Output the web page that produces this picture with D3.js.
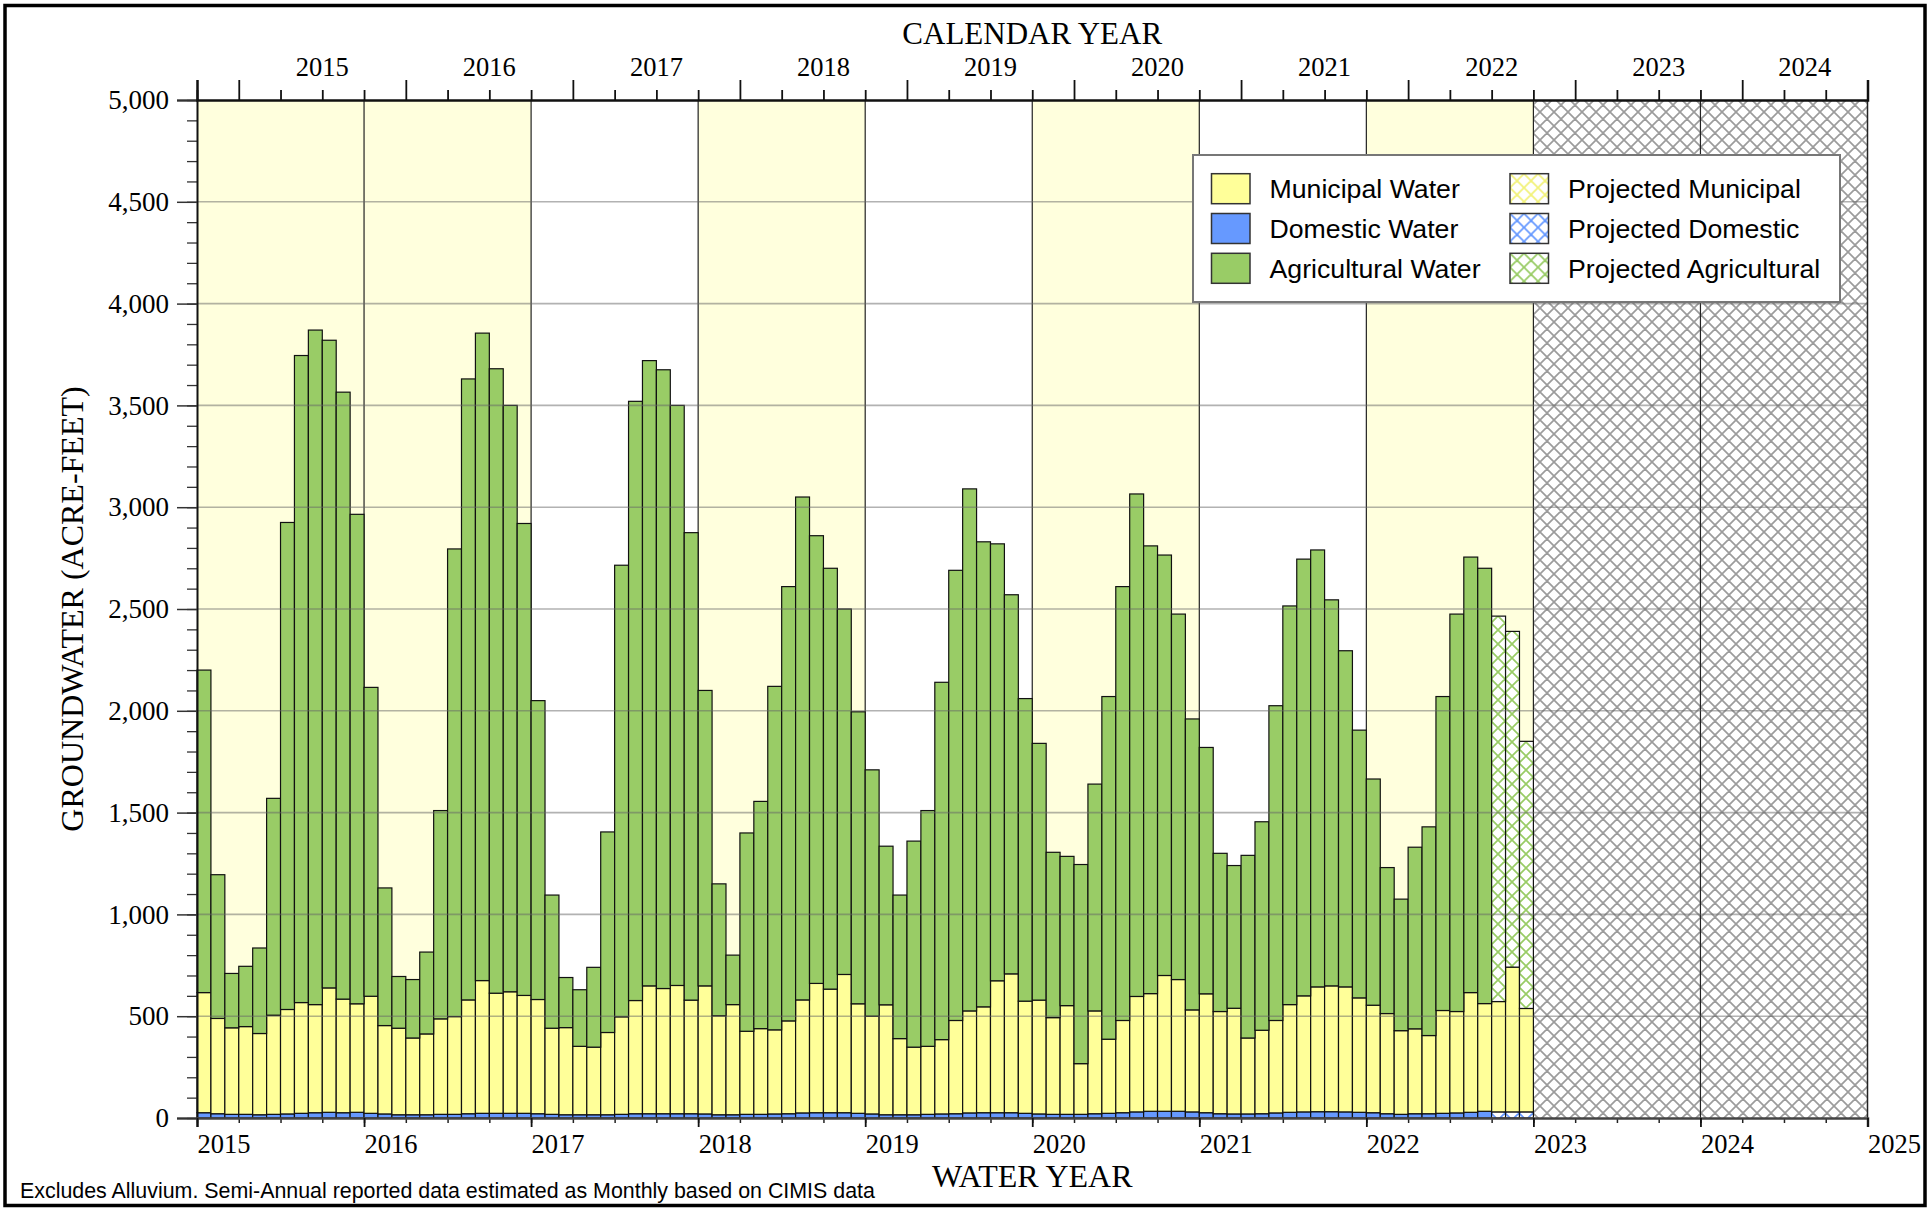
<!DOCTYPE html>
<html>
<head>
<meta charset="utf-8">
<script src="https://cdn.jsdelivr.net/npm/d3@7"></script>
<style>
  body { margin: 0; background: #fff; }
  svg { display: block; }
</style>
</head>
<body>
<div id="graph"></div>
<script>
var width = 1929,
    height = 1208

// water years on the bottom axis, calendar years on the top one
var waterYears = d3.range(2015, 2026)
var calendarYears = d3.range(2015, 2025)
var shadedYears = [2015, 2016, 2018, 2020, 2022]
var projectedYears = [2023, 2024]

// monthly groundwater use, Oct 2014 - Jun 2022 (acre-feet)
var domestic = [
  26, 21, 18, 18, 16, 18, 20, 23, 26, 28, 26, 28,
  23, 20, 16, 16, 16, 18, 18, 21, 23, 23, 23, 23,
  21, 18, 16, 16, 16, 16, 18, 21, 21, 21, 21, 21,
  20, 16, 16, 18, 18, 20, 21, 25, 26, 26, 26, 23,
  20, 16, 16, 16, 18, 20, 21, 25, 26, 26, 26, 23,
  20, 18, 18, 18, 21, 23, 26, 30, 33, 33, 33, 30,
  26, 21, 20, 20, 21, 25, 28, 30, 31, 31, 30, 28,
  26, 21, 18, 21, 21, 23, 25, 28, 33]
var municipal = [
  590, 468, 425, 431, 399, 487, 513, 544, 531, 611, 558, 533,
  575, 434, 425, 377, 397, 469, 480, 559, 652, 590, 597, 579,
  561, 423, 428, 336, 332, 404, 479, 556, 628, 615, 630, 558,
  629, 486, 541, 408, 421, 413, 456, 555, 635, 607, 679, 538,
  480, 540, 374, 332, 334, 365, 458, 501, 520, 648, 682, 551,
  559, 475, 534, 249, 505, 364, 453, 567, 578, 667, 647, 501,
  584, 502, 519, 373, 410, 454, 529, 570, 613, 618, 614, 562,
  528, 492, 411, 417, 384, 505, 498, 588, 529]
var agricultural = [
  1584, 706, 267, 296, 420, 1065, 2392, 3178, 3313, 3181, 2981, 2404,
  1517, 676, 254, 287, 402, 1023, 2297, 3050, 3180, 3067, 2880, 2318,
  1468, 654, 246, 278, 392, 985, 2218, 2943, 3071, 3039, 2849, 2296,
  1451, 648, 243, 974, 1116, 1687, 2133, 2470, 2199, 2067, 1795, 1434,
  1210, 779, 705, 1012, 1158, 1755, 2211, 2564, 2284, 2146, 1862, 1486,
  1261, 812, 733, 978, 1114, 1683, 2131, 2468, 2199, 2065, 1795, 1429,
  1210, 777, 701, 897, 1024, 1546, 1958, 2145, 2146, 1896, 1651, 1315,
  1111, 717, 646, 892, 1025, 1542, 1952, 2139, 2138]
// projected Jul - Sep 2022
var projDomestic = [30, 30, 30]
var projMunicipal = [542, 711, 508]
var projAgricultural = [1893, 1649, 1312]

var yTicks = d3.range(0, 5001, 500)

var serif = '"Liberation Serif", "Times New Roman", serif',
    sans = '"Liberation Sans", Arial, sans-serif'

var colors = {domestic: '#6699ff', municipal: '#ffff99', agricultural: '#99cc66'}

var plotLeft = 197, plotRight = 1867.5, plotTop = 100, plotBottom = 1118
var nMonths = (waterYears[waterYears.length - 1] - waterYears[0]) * 12

var x = d3.scaleLinear().domain([0, nMonths]).range([plotLeft, plotRight])
var y = d3.scaleLinear().domain([0, 5000]).range([plotBottom, plotTop])
var bw = x(1) - x(0)
function wy(year) { return (year - waterYears[0]) * 12 }
// January of a calendar year falls 3 months into the water year of the same number
function calStart(year) { return wy(year) + 3 }

var svg = d3.select('#graph').append('svg')
    .attr('width', width).attr('height', height)
    .style('font-family', serif)

// hatch patterns
var defs = svg.append('defs')
function hatch(id, color, w) {
  var p = defs.append('pattern').attr('id', id)
      .attr('patternUnits', 'userSpaceOnUse')
      .attr('width', 14).attr('height', 14)
  p.append('rect').attr('width', 14).attr('height', 14).attr('fill', '#fff')
  p.append('path').attr('d', 'M0,0L14,14M14,0L0,14M-7,7L7,21M7,-7L21,7M7,-7L-7,7M21,7L7,21')
      .attr('stroke', color).attr('stroke-width', w).attr('fill', 'none')
}
hatch('hatch-grey', '#9c9c9c', 1.7)
hatch('hatch-green', '#99cc66', 1.7)
hatch('hatch-blue', '#6699ff', 1.7)
hatch('hatch-yellow', '#f2f27a', 1.7)

// shaded water years and projection period
svg.append('g').selectAll('rect')
  .data(shadedYears).join('rect')
    .attr('x', d => x(wy(d)))
    .attr('y', plotTop)
    .attr('width', x(12) - x(0))
    .attr('height', plotBottom - plotTop)
    .attr('fill', '#ffffdd')

svg.append('rect')
    .attr('x', x(wy(projectedYears[0])))
    .attr('y', plotTop)
    .attr('width', x(wy(projectedYears[projectedYears.length - 1] + 1)) - x(wy(projectedYears[0])))
    .attr('height', plotBottom - plotTop)
    .attr('fill', 'url(#hatch-grey)')

// water year separators
svg.append('g').selectAll('line')
  .data(waterYears.slice(1, -1)).join('line')
    .attr('x1', d => x(wy(d))).attr('x2', d => x(wy(d)))
    .attr('y1', plotTop).attr('y2', plotBottom)
    .attr('stroke', '#222').attr('stroke-width', 1.2)

// stacked bars
var rows = d3.range(domestic.length + projDomestic.length).map(function(i) {
  var p = i >= domestic.length, j = i - domestic.length
  return {
    i: i,
    projected: p,
    domestic: p ? projDomestic[j] : domestic[i],
    municipal: p ? projMunicipal[j] : municipal[i],
    agricultural: p ? projAgricultural[j] : agricultural[i]
  }
})
var keys = ['domestic', 'municipal', 'agricultural']
var series = d3.stack().keys(keys)(rows)

function fillFor(key, d) {
  if (!d.data.projected) return colors[key]
  if (key === 'domestic') return 'url(#hatch-blue)'
  if (key === 'agricultural') return 'url(#hatch-green)'
  return colors.municipal
}

svg.append('g').selectAll('g')
  .data(series).join('g')
  .selectAll('rect')
  .data(s => s.map(d => (d.key = s.key, d)))
  .join('rect')
    .attr('x', d => x(d.data.i))
    .attr('y', d => y(d[1]))
    .attr('width', bw)
    .attr('height', d => y(d[0]) - y(d[1]))
    .attr('fill', d => fillFor(d.key, d))
    .attr('stroke', '#111')
    .attr('stroke-width', 1.2)

// horizontal grid, drawn over the bars
svg.append('g').selectAll('line')
  .data(yTicks.slice(1, -1)).join('line')
    .attr('x1', plotLeft).attr('x2', plotRight)
    .attr('y1', d => y(d)).attr('y2', d => y(d))
    .attr('stroke', '#666').attr('stroke-opacity', 0.5).attr('stroke-width', 1.6)

// right frame edge
svg.append('line')
    .attr('x1', plotRight).attr('x2', plotRight).attr('y1', plotTop).attr('y2', plotBottom)
    .attr('stroke', '#222').attr('stroke-width', 1.5)

// y axis
var yMinor = svg.append('g').attr('transform', 'translate(' + plotLeft + ',0)')
    .call(d3.axisLeft(y).tickValues(d3.range(0, 5001, 100)).tickSize(10).tickFormat(''))
yMinor.select('.domain').remove()
yMinor.selectAll('line').attr('stroke', '#333').attr('stroke-width', 1.3)

var yAxis = svg.append('g').attr('transform', 'translate(' + plotLeft + ',0)')
    .call(d3.axisLeft(y).tickValues(yTicks).tickSize(20).tickPadding(8).tickFormat(d3.format(',')))
yAxis.select('.domain').attr('stroke', '#111').attr('stroke-width', 2)
yAxis.selectAll('line').attr('stroke', '#333').attr('stroke-width', 1.5)
yAxis.selectAll('text').attr('font-family', serif).attr('font-size', 27).attr('fill', '#000')

// bottom axis: water years
var xMinor = svg.append('g').attr('transform', 'translate(0,' + plotBottom + ')')
    .call(d3.axisBottom(x).tickValues(d3.range(0, nMonths + 1, 3)).tickSize(5).tickFormat(''))
xMinor.select('.domain').remove()
xMinor.selectAll('line').attr('stroke', '#222').attr('stroke-width', 1.5)

var xAxis = svg.append('g').attr('transform', 'translate(0,' + plotBottom + ')')
    .call(d3.axisBottom(x).tickValues(waterYears.map(wy)).tickSize(9).tickPadding(7)
      .tickFormat(d => waterYears[0] + d / 12))
xAxis.select('.domain').attr('stroke', '#444').attr('stroke-width', 2.5)
xAxis.selectAll('line').attr('stroke', '#111').attr('stroke-width', 1.8)
xAxis.selectAll('text')
    .attr('text-anchor', 'start').attr('dy', '0.72em')
    .attr('font-family', serif).attr('font-size', 26.5).attr('fill', '#000')

// top axis: calendar years
var topMinor = svg.append('g').attr('transform', 'translate(0,' + plotTop + ')')
    .call(d3.axisTop(x).tickValues(d3.range(0, nMonths + 1, 3).filter(m => (m + 9) % 12 !== 0)).tickSize(10).tickFormat(''))
topMinor.select('.domain').remove()
topMinor.selectAll('line').attr('stroke', '#111').attr('stroke-width', 1.8)

var topAxis = svg.append('g').attr('transform', 'translate(0,' + plotTop + ')')
    .call(d3.axisTop(x).tickValues(calendarYears.map(calStart)).tickSize(20).tickFormat(''))
topAxis.select('.domain').attr('stroke', '#111').attr('stroke-width', 2.5)
topAxis.selectAll('line').attr('stroke', '#111').attr('stroke-width', 1.8)

svg.append('g').selectAll('text')
  .data(calendarYears).join('text')
    .attr('x', d => x((calStart(d) + Math.min(calStart(d) + 12, nMonths)) / 2))
    .attr('y', 76)
    .attr('text-anchor', 'middle')
    .attr('font-size', 26.5)
    .text(d => d)

// titles
svg.append('text').attr('x', (plotLeft + plotRight) / 2).attr('y', 44)
    .attr('text-anchor', 'middle').attr('font-size', 31).text('CALENDAR YEAR')
svg.append('text').attr('x', (plotLeft + plotRight) / 2).attr('y', 1187)
    .attr('text-anchor', 'middle').attr('font-size', 32).text('WATER YEAR')
svg.append('text')
    .attr('transform', 'translate(83,' + (plotTop + plotBottom) / 2 + ') rotate(-90)')
    .attr('text-anchor', 'middle').attr('font-size', 32).text('GROUNDWATER (ACRE-FEET)')
svg.append('text').attr('x', 20).attr('y', 1198)
    .attr('font-family', sans).attr('font-size', 21.4)
    .text('Excludes Alluvium. Semi-Annual reported data estimated as Monthly based on CIMIS data')

// legend
var legendItems = [
  {label: 'Municipal Water', fill: colors.municipal, col: 0, row: 0},
  {label: 'Domestic Water', fill: colors.domestic, col: 0, row: 1},
  {label: 'Agricultural Water', fill: colors.agricultural, col: 0, row: 2},
  {label: 'Projected Municipal', fill: 'url(#hatch-yellow)', col: 1, row: 0},
  {label: 'Projected Domestic', fill: 'url(#hatch-blue)', col: 1, row: 1},
  {label: 'Projected Agricultural', fill: 'url(#hatch-green)', col: 1, row: 2}
]
var legend = svg.append('g').attr('transform', 'translate(1193,155)')
legend.append('rect').attr('width', 647).attr('height', 147)
    .attr('fill', '#fff').attr('stroke', '#777').attr('stroke-width', 2)
var li = legend.selectAll('g.item').data(legendItems).join('g')
    .attr('class', 'item')
    .attr('transform', d => 'translate(' + [18.5 + d.col * 298.5, 18.7 + d.row * 39.8] + ')')
li.append('rect').attr('width', 38.5).attr('height', 30)
    .attr('fill', d => d.fill).attr('stroke', '#333').attr('stroke-width', 1.5)
li.append('text').attr('x', 58).attr('y', 24.5)
    .attr('font-family', sans).attr('font-size', 26.7)
    .text(d => d.label)

// outer frame
svg.append('rect').attr('x', 5).attr('y', 5.5).attr('width', 1920).attr('height', 1200)
    .attr('fill', 'none').attr('stroke', '#000').attr('stroke-width', 3.5)
</script>
</body>
</html>
